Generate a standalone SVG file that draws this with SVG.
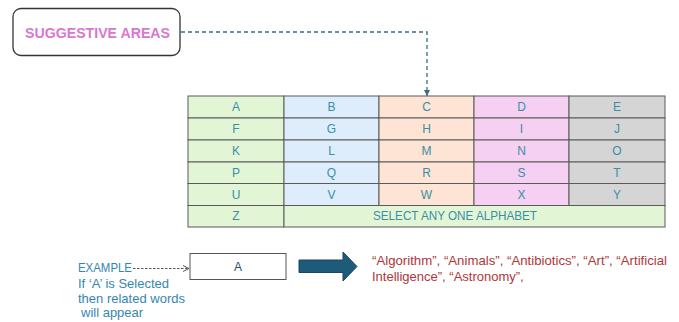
<svg xmlns="http://www.w3.org/2000/svg" width="679" height="322" viewBox="0 0 679 322">
<style>
.cell{stroke:#5a5a5a;stroke-width:1}
.lt{font-family:"Liberation Sans",Arial,sans-serif;font-size:12px;fill:#3a8ea6;text-anchor:middle}
.ex{font-family:"Liberation Sans",Arial,sans-serif;font-size:13px;fill:#3586b0}
.red{font-family:"Liberation Sans",Arial,sans-serif;font-size:13px;fill:#b0363a}
.g{fill:#e2f6d6}.b{fill:#deedfb}.o{fill:#fde4d4}.p{fill:#f5d0f2}.y{fill:#d5d5d5}
</style>
<defs>
<marker id="tri" markerWidth="8" markerHeight="8" refX="7" refY="4" orient="auto" markerUnits="userSpaceOnUse">
<path d="M1,1 L7,4 L1,7 Z" fill="#3d6b82"/>
</marker>
<marker id="chev" markerWidth="8" markerHeight="8" refX="7" refY="4" orient="auto" markerUnits="userSpaceOnUse">
<path d="M1,1 L7,4 L1,7" fill="none" stroke="#555" stroke-width="1"/>
</marker>
</defs>

<g id="suggestive-areas">
<rect x="13" y="8.5" width="167" height="47" rx="8" ry="8" fill="#fff" stroke="#333" stroke-width="1.3"/>
<text x="25" y="38" font-family="'Liberation Sans',Arial,sans-serif" font-size="15" font-weight="bold" fill="#d978d0" textLength="145" lengthAdjust="spacingAndGlyphs">SUGGESTIVE AREAS</text>
</g>

<g id="alphabet-table">
<rect class="cell g" x="188" y="96" width="96" height="22"/>
<rect class="cell b" x="284" y="96" width="95" height="22"/>
<rect class="cell o" x="379" y="96" width="95" height="22"/>
<rect class="cell p" x="474" y="96" width="95" height="22"/>
<rect class="cell y" x="569" y="96" width="96" height="22"/>
<rect class="cell g" x="188" y="118" width="96" height="22"/>
<rect class="cell b" x="284" y="118" width="95" height="22"/>
<rect class="cell o" x="379" y="118" width="95" height="22"/>
<rect class="cell p" x="474" y="118" width="95" height="22"/>
<rect class="cell y" x="569" y="118" width="96" height="22"/>
<rect class="cell g" x="188" y="140" width="96" height="22"/>
<rect class="cell b" x="284" y="140" width="95" height="22"/>
<rect class="cell o" x="379" y="140" width="95" height="22"/>
<rect class="cell p" x="474" y="140" width="95" height="22"/>
<rect class="cell y" x="569" y="140" width="96" height="22"/>
<rect class="cell g" x="188" y="162" width="96" height="21.5"/>
<rect class="cell b" x="284" y="162" width="95" height="21.5"/>
<rect class="cell o" x="379" y="162" width="95" height="21.5"/>
<rect class="cell p" x="474" y="162" width="95" height="21.5"/>
<rect class="cell y" x="569" y="162" width="96" height="21.5"/>
<rect class="cell g" x="188" y="183.5" width="96" height="22"/>
<rect class="cell b" x="284" y="183.5" width="95" height="22"/>
<rect class="cell o" x="379" y="183.5" width="95" height="22"/>
<rect class="cell p" x="474" y="183.5" width="95" height="22"/>
<rect class="cell y" x="569" y="183.5" width="96" height="22"/>
<rect class="cell g" x="188" y="205.5" width="96" height="21.5"/>
<rect class="cell g" x="284" y="205.5" width="381" height="21.5"/>
<text class="lt" x="236" y="111.3">A</text><text class="lt" x="331.5" y="111.3">B</text><text class="lt" x="426.5" y="111.3">C</text><text class="lt" x="521.5" y="111.3">D</text><text class="lt" x="617" y="111.3">E</text>
<text class="lt" x="236" y="133.3">F</text><text class="lt" x="331.5" y="133.3">G</text><text class="lt" x="426.5" y="133.3">H</text><text class="lt" x="521.5" y="133.3">I</text><text class="lt" x="617" y="133.3">J</text>
<text class="lt" x="236" y="155.3">K</text><text class="lt" x="331.5" y="155.3">L</text><text class="lt" x="426.5" y="155.3">M</text><text class="lt" x="521.5" y="155.3">N</text><text class="lt" x="617" y="155.3">O</text>
<text class="lt" x="236" y="176.8">P</text><text class="lt" x="331.5" y="176.8">Q</text><text class="lt" x="426.5" y="176.8">R</text><text class="lt" x="521.5" y="176.8">S</text><text class="lt" x="617" y="176.8">T</text>
<text class="lt" x="236" y="198.8">U</text><text class="lt" x="331.5" y="198.8">V</text><text class="lt" x="426.5" y="198.8">W</text><text class="lt" x="521.5" y="198.8">X</text><text class="lt" x="617" y="198.8">Y</text>
<text class="lt" x="236" y="220.3">Z</text>
<text class="lt" x="455" y="220.3" textLength="164" lengthAdjust="spacingAndGlyphs">SELECT ANY ONE ALPHABET</text>
</g>

<g id="example-label">
<text class="ex" x="78" y="272" textLength="54" lengthAdjust="spacingAndGlyphs">EXAMPLE</text>
<text class="ex" x="78" y="287.5">If ‘A’ is Selected</text>
<text class="ex" x="78" y="302.5">then related words</text>
<text class="ex" x="81" y="317">will appear</text>
</g>

<g id="selected-a">
<rect x="190" y="253.5" width="96" height="26" fill="#fff" stroke="#555" stroke-width="1"/>
<text x="238" y="271" font-family="'Liberation Sans',Arial,sans-serif" font-size="12" fill="#1f4f6e" text-anchor="middle">A</text>
</g>

<g id="big-arrow">
<path d="M299,260 L343,260 L343,252 L357,266.5 L343,281 L343,272.5 L299,272.5 Z" fill="#1e5a7a" stroke="#18475f" stroke-width="1"/>
</g>

<g id="related-words">
<text class="red" x="372" y="265" textLength="295" lengthAdjust="spacingAndGlyphs">“Algorithm”, “Animals”, “Antibiotics”, “Art”, “Artificial</text>
<text class="red" x="372" y="281">Intelligence”, “Astronomy”,</text>
</g>

<g id="connectors" fill="none">
<path d="M181,32 L427,32 L427,96" stroke="#3d6b82" stroke-width="1.3" stroke-dasharray="4,3" marker-end="url(#tri)"/>
<path d="M133,268.5 L189,268.5" stroke="#555" stroke-width="1" stroke-dasharray="2.5,1.5" marker-end="url(#chev)"/>
</g>
</svg>
